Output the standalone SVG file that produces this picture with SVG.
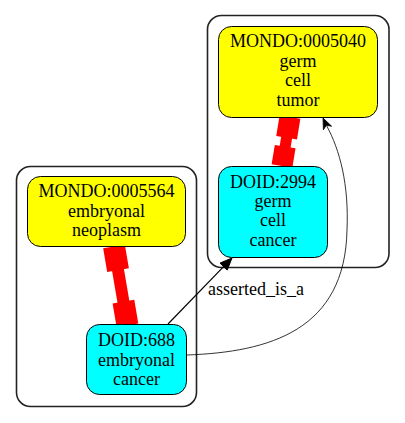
<svg xmlns="http://www.w3.org/2000/svg" width="405" height="423" viewBox="0 0 405 423">
<style>
.cl{fill:none;stroke:#222;stroke-width:1.6}
.n{stroke:#000;stroke-width:1}
.y{fill:#ffff00}
.c{fill:#00ffff}
text{font-family:"Liberation Serif","Times New Roman",serif;font-size:18px;fill:#000}
.m{text-anchor:middle}
.red{fill:#ff0000}
</style>
<rect width="405" height="423" fill="#fff"/>
<g id="clusters">
<rect id="cluster_right" class="cl" x="207.5" y="15.5" width="181.5" height="252" rx="14"/>
<rect id="cluster_left" class="cl" x="16.5" y="166.5" width="180" height="240" rx="14"/>
</g>
<g id="connectors">
<g id="e_red_right" transform="translate(290,117) rotate(9.3)">
<rect class="red" x="-10.5" y="0" width="21" height="21"/>
<rect class="red" x="-5.5" y="20" width="11" height="11"/>
<rect class="red" x="-10.5" y="30" width="21" height="19.6"/>
</g>
<g id="e_red_left" transform="translate(114,246.5) rotate(-9.7)">
<rect class="red" x="-11" y="0" width="22" height="24"/>
<rect class="red" x="-6" y="23" width="12" height="34"/>
<rect class="red" x="-11" y="56" width="22" height="24"/>
</g>
<g id="e_asserted">
<path d="M168,324 L223.6,266.6" fill="none" stroke="#000" stroke-width="1.2"/>
<polygon points="232,258 227.2,270.1 220,263.1" fill="#000" stroke="#000"/>
<text x="208" y="295">asserted_is_a</text>
</g>
<g id="e_curve">
<path d="M187,355 C270,352 345,330 347,230 C349,185 340,150 326.5,125.5" fill="none" stroke="#000" stroke-width="0.8"/>
<polygon points="323,118 323.4,129.8 326.3,125.3 331.6,126.2" fill="#000" stroke="#000" stroke-width="0.8"/>
</g>
</g>
<g id="MONDO_0005040">
<rect class="n y" x="218.5" y="26.5" width="159" height="91" rx="13"/>
<text class="m" x="298" y="47">MONDO:0005040</text>
<text class="m" x="298" y="67">germ</text>
<text class="m" x="298" y="86">cell</text>
<text class="m" x="298" y="106">tumor</text>
</g>
<g id="DOID_2994">
<rect class="n c" x="218.5" y="166.5" width="109" height="91" rx="13"/>
<text class="m" x="273" y="188">DOID:2994</text>
<text class="m" x="273" y="207">germ</text>
<text class="m" x="273" y="226">cell</text>
<text class="m" x="273" y="246">cancer</text>
</g>
<g id="MONDO_0005564">
<rect class="n y" x="27.5" y="176.5" width="158" height="70" rx="13"/>
<text class="m" x="106.5" y="197">MONDO:0005564</text>
<text class="m" x="106.5" y="217">embryonal</text>
<text class="m" x="106.5" y="236">neoplasm</text>
</g>
<g id="DOID_688">
<rect class="n c" x="86.5" y="324.5" width="100" height="70" rx="13"/>
<text class="m" x="136.5" y="346">DOID:688</text>
<text class="m" x="136.5" y="366">embryonal</text>
<text class="m" x="136.5" y="385">cancer</text>
</g>
</svg>
